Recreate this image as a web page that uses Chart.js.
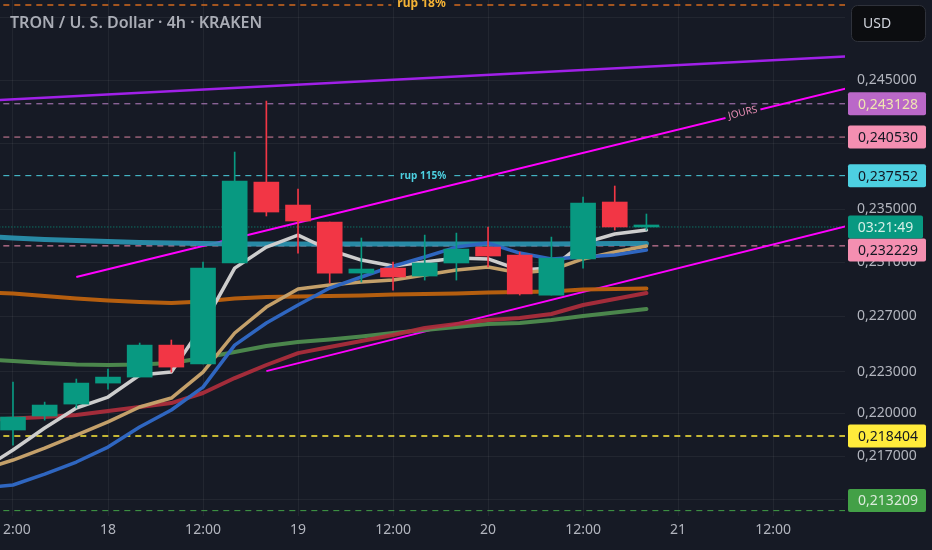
<!DOCTYPE html>
<html>
<head>
<meta charset="utf-8">
<script src="https://cdn.jsdelivr.net/npm/chart.js@4.4.0/dist/chart.umd.min.js"></script>
<style>
  html, body { margin: 0; padding: 0; background: #161a25; }
  #wrap { width: 932px; height: 550px; position: relative; }
</style>
</head>
<body>
<div id="wrap"><canvas id="myChart"></canvas></div>
<script>
// TRX/USD 4h candles, bar 0 = 17th 12:00
var opens  = [0.21883, 0.21982, 0.22067, 0.22217, 0.22260, 0.22491, 0.22354, 0.23095, 0.23706, 0.23531, 0.23402,
              0.23020, 0.23057, 0.22998, 0.23095, 0.23214, 0.23154, 0.22857, 0.23125, 0.23554, 0.23365];
var highs  = [0.22224, 0.22081, 0.22246, 0.22318, 0.22506, 0.22528, 0.23102, 0.23937, 0.24334, 0.23653, 0.23402,
              0.23282, 0.23102, 0.23304, 0.23319, 0.23365, 0.23177, 0.23289, 0.23592, 0.23676, 0.23463];
var lows   = [0.21777, 0.21953, 0.22039, 0.22174, 0.22260, 0.22296, 0.22354, 0.23095, 0.23448, 0.23169, 0.22946,
              0.22954, 0.22894, 0.22968, 0.22968, 0.23065, 0.22857, 0.22857, 0.23057, 0.23342, 0.23342];
var closes = [0.21975, 0.22060, 0.22217, 0.22260, 0.22491, 0.22332, 0.23057, 0.23714, 0.23478, 0.23410, 0.23020,
              0.23050, 0.22991, 0.23095, 0.23199, 0.23147, 0.22865, 0.23132, 0.23546, 0.23365, 0.23372];

// moving averages, first value is the bar before bar 0
var maGray   = [0.21602, 0.21742, 0.21897, 0.22039, 0.22117, 0.22275, 0.22296, 0.22637, 0.23057, 0.23214, 0.23304,
                0.23192, 0.23117, 0.23072, 0.23102, 0.23132, 0.23125, 0.23043, 0.23057, 0.23244, 0.23312, 0.23342];
var maTan    = [0.21602, 0.21672, 0.21756, 0.21847, 0.21940, 0.22046, 0.22110, 0.22296, 0.22579, 0.22769, 0.22902,
                0.22931, 0.22954, 0.22968, 0.23006, 0.23043, 0.23065, 0.23020, 0.23043, 0.23125, 0.23177, 0.23222];
var maBlue   = [0.21477, 0.21498, 0.21574, 0.21658, 0.21763, 0.21904, 0.22025, 0.22188, 0.22491, 0.22652, 0.22784,
                0.22909, 0.22991, 0.23072, 0.23140, 0.23214, 0.23244, 0.23169, 0.23125, 0.23140, 0.23154, 0.23192];
var maTeal   = [0.23297, 0.23282, 0.23270, 0.23263, 0.23255, 0.23249, 0.23244, 0.23240, 0.23237, 0.23237, 0.23237,
                0.23237, 0.23237, 0.23237, 0.23237, 0.23237, 0.23237, 0.23237, 0.23237, 0.23238, 0.23240, 0.23240];
var maOrange = [0.22880, 0.22868, 0.22850, 0.22832, 0.22817, 0.22806, 0.22798, 0.22810, 0.22832, 0.22843, 0.22846,
                0.22850, 0.22854, 0.22861, 0.22865, 0.22868, 0.22876, 0.22880, 0.22884, 0.22899, 0.22902, 0.22906];
var maGreen  = [0.22390, 0.22376, 0.22361, 0.22350, 0.22347, 0.22350, 0.22361, 0.22397, 0.22441, 0.22484, 0.22513,
                0.22531, 0.22553, 0.22579, 0.22601, 0.22623, 0.22644, 0.22652, 0.22674, 0.22703, 0.22729, 0.22754];
var maRed    = [0.21953, 0.21964, 0.21975, 0.21989, 0.22017, 0.22046, 0.22074, 0.22146, 0.22253, 0.22347, 0.22433,
                0.22477, 0.22521, 0.22564, 0.22615, 0.22644, 0.22674, 0.22688, 0.22718, 0.22784, 0.22828, 0.22872];

// trend lines: [bar, price]
var purpleLine = [[-1, 0.24334], [27, 0.24696]];
var joursLine  = [[2, 0.22991], [27, 0.24475]];
var lowerLine  = [[8, 0.22303], [27, 0.23412]];

// horizontal levels
var rupTop   = 0.2510;
var levelVals = [0.243128, 0.240530, 0.237552, 0.232229, 0.218404, 0.213209];
var lastPrice = 0.23365;
var countdown = '03:21:49';

var yTicks = [0.250, 0.245, 0.240, 0.235, 0.231, 0.227, 0.223, 0.220, 0.217, 0.214];
var yTicksHidden = [0.250, 0.240, 0.214];
var xTickPos = [0, 3, 6, 9, 12, 15, 18, 21, 24];
var xTickLabels = ['12:00', '18', '12:00', '19', '12:00', '20', '12:00', '21', '12:00'];

var BG = '#161a25';
var levelStyle = [
  { line: '#b77fc4', box: '#ba68c8', text: '#efe6b0' },
  { line: '#d9839f', box: '#f48fb1', text: '#131722' },
  { line: '#4dd0e1', box: '#4dd0e1', text: '#131722' },
  { line: '#f48fb1', box: '#f48fb1', text: '#131722' },
  { line: '#ffeb3b', box: '#ffeb3b', text: '#131722' },
  { line: '#43a047', box: '#43a047', text: '#dcebdc' }
];

Chart.defaults.font.family = "'Noto Sans', sans-serif";

var up = '#089981', down = '#f23645';
var candleColors = opens.map(function (o, i) { return closes[i] >= o ? up : down; });

function maSet(vals, color, width, order) {
  return {
    type: 'line', order: order,
    data: vals.map(function (v, k) { return { x: k - 1, y: v }; }),
    borderColor: color, borderWidth: width, pointRadius: 0, tension: 0, fill: false,
    borderJoinStyle: 'round', borderCapStyle: 'round'
  };
}
function segSet(pts, color, width, order) {
  return {
    type: 'line', order: order,
    data: pts.map(function (p) { return { x: p[0], y: p[1] }; }),
    borderColor: color, borderWidth: width, pointRadius: 0, fill: false
  };
}
function levelSet(v, color, dash, width) {
  return {
    type: 'line', order: 6,
    data: [{ x: -1, y: v }, { x: 27, y: v }],
    borderColor: color, borderDash: dash, borderWidth: width, pointRadius: 0, fill: false
  };
}

var datasets = [
  { type: 'bar', order: 0, grouped: false, barThickness: 25, minBarLength: 2,
    data: opens.map(function (o, i) { return { x: i, y: [o, closes[i]] }; }),
    backgroundColor: candleColors, borderWidth: 0 },
  { type: 'bar', order: 1, grouped: false, barThickness: 1,
    data: lows.map(function (l, i) { return { x: i, y: [l, highs[i]] }; }),
    backgroundColor: candleColors, borderWidth: 0 },
  maSet(maRed, 'rgba(176,46,60,0.92)', 4, 3),
  maSet(maGreen, 'rgba(78,140,78,0.95)', 4, 3),
  maSet(maOrange, 'rgba(190,98,14,0.95)', 4, 3),
  maSet(maTeal, 'rgba(42,146,176,0.92)', 5, 3),
  maSet(maBlue, '#2f66c0', 3.5, 2),
  maSet(maTan, '#c4a06a', 3.5, 2),
  maSet(maGray, '#cdcdcd', 3.5, 2),
  segSet(purpleLine, '#a020e8', 2.5, 4),
  segSet(joursLine, '#ff00ff', 2, 4),
  segSet(lowerLine, '#ff00ff', 2, 4),
  levelSet(rupTop, '#d2691e', [6, 5], 1.5),
  levelSet(lastPrice, up, [1, 2], 1)
];
levelVals.forEach(function (v, i) {
  datasets.push(levelSet(v, levelStyle[i].line, [6, 5], i === 4 ? 1.5 : 1));
});

function box(ctx, x, y, w, h, r, fill, stroke) {
  ctx.beginPath();
  ctx.moveTo(x + r, y);
  ctx.arcTo(x + w, y, x + w, y + h, r);
  ctx.arcTo(x + w, y + h, x, y + h, r);
  ctx.arcTo(x, y + h, x, y, r);
  ctx.arcTo(x, y, x + w, y, r);
  ctx.closePath();
  ctx.fillStyle = fill;
  ctx.fill();
  if (stroke) { ctx.strokeStyle = stroke; ctx.lineWidth = 1; ctx.stroke(); }
}

function fmt(v) { return v.toFixed(6).replace('.', ','); }

function noPad(s) {
  s.paddingLeft = 0; s.paddingRight = 0; s.paddingTop = 0; s.paddingBottom = 0;
}

var overlay = {
  id: 'overlay',
  beforeDraw: function (chart) {
    var ctx = chart.ctx;
    ctx.save();
    ctx.fillStyle = BG;
    ctx.fillRect(0, 0, chart.width, chart.height);
    ctx.restore();
  },
  afterDatasetsDraw: function (chart) {
    var ctx = chart.ctx, xs = chart.scales.x, ys = chart.scales.y;
    ctx.save();
    ctx.textBaseline = 'middle';

    // rup 18%
    var x1 = xs.getPixelForValue(12.9), y1 = ys.getPixelForValue(rupTop);
    ctx.font = 'bold 12px "Noto Sans"';
    var w1 = ctx.measureText('rup 18%').width;
    ctx.fillStyle = BG;
    ctx.fillRect(x1 - w1 / 2 - 6, y1 - 2, w1 + 12, 4);
    ctx.fillStyle = '#f5b335';
    ctx.textAlign = 'center';
    ctx.fillText('rup 18%', x1, y1 - 1);

    // rup 115%
    var x2 = xs.getPixelForValue(12.95), y2 = ys.getPixelForValue(levelVals[2]);
    ctx.font = 'bold 10px "Noto Sans"';
    var w2 = ctx.measureText('rup 115%').width;
    ctx.fillStyle = BG;
    ctx.fillRect(x2 - w2 / 2 - 6, y2 - 2, w2 + 12, 4);
    ctx.fillStyle = '#4dd0e1';
    ctx.fillText('rup 115%', x2, y2);

    // JOURS on the magenta line
    var ax = xs.getPixelForValue(joursLine[0][0]), ay = ys.getPixelForValue(joursLine[0][1]);
    var bx = xs.getPixelForValue(joursLine[1][0]), by = ys.getPixelForValue(joursLine[1][1]);
    var ang = Math.atan2(by - ay, bx - ax);
    var jx = 743, jy = ay + (by - ay) * (jx - ax) / (bx - ax);
    ctx.translate(jx, jy);
    ctx.rotate(ang);
    ctx.font = '10px "Noto Sans"';
    ctx.fillStyle = BG;
    ctx.fillRect(-18, -4, 36, 8);
    ctx.fillStyle = '#e98fb6';
    ctx.textAlign = 'center';
    ctx.fillText('JOURS', 0, -1);
    ctx.setTransform(1, 0, 0, 1, 0, 0);
    ctx.restore();

    // title
    ctx.save();
    ctx.font = '600 16px "Noto Sans"';
    ctx.fillStyle = '#a9acb5';
    ctx.textBaseline = 'middle';
    ctx.textAlign = 'left';
    ctx.fillText('TRON / U. S. Dollar \u00b7 4h \u00b7 KRAKEN', 10, 23);
    ctx.restore();
  },
  afterDraw: function (chart) {
    var ctx = chart.ctx, ys = chart.scales.y, area = chart.chartArea;
    var bx = area.right + 3, bw = 78, bh = 23;
    ctx.save();
    ctx.font = '14px "Noto Sans"';
    ctx.textBaseline = 'middle';
    ctx.textAlign = 'center';

    var cy = ys.getPixelForValue(lastPrice);
    var cTop = cy - bh / 2, cBot = cy + bh / 2;

    levelVals.forEach(function (v, i) {
      var top = ys.getPixelForValue(v) - bh / 2;
      if (top < cBot && top + bh > cTop) top = cBot;
      if (top + bh > area.bottom - 4) top = area.bottom - 4 - bh;
      box(ctx, bx, top, bw, bh, 2, levelStyle[i].box);
      ctx.fillStyle = levelStyle[i].text;
      ctx.fillText(fmt(v), bx + bw / 2 + 1, top + bh / 2 + 1);
    });

    box(ctx, bx, cTop, 75, bh, 2, up);
    ctx.fillStyle = '#d3efe6';
    ctx.fillText(countdown, bx + 37.5, cy + 1);

    // currency button
    box(ctx, area.right + 6.5, 5.5, 74, 36, 6, '#0c0d10', '#2f323b');
    ctx.fillStyle = '#d1d4dc';
    ctx.textAlign = 'left';
    ctx.fillText('USD', area.right + 18, 24);
    ctx.restore();
  }
};

var ctx = document.getElementById('myChart');
var myChart = new Chart(ctx, {
  type: 'line',
  data: { datasets: datasets },
  options: {
    responsive: true,
    maintainAspectRatio: false,
    animation: false,
    layout: { padding: 0, autoPadding: false },
    plugins: { legend: { display: false }, tooltip: { enabled: false } },
    scales: {
      x: {
        type: 'linear', min: -0.41, max: 26.27, offset: false,
        afterBuildTicks: function (s) { s.ticks = xTickPos.map(function (v) { return { value: v }; }); },
        afterFit: function (s) { s.height = 34; noPad(s); },
        grid: { color: 'rgba(255,255,255,0.055)', drawTicks: false, offset: false },
        border: { display: false },
        ticks: {
          autoSkip: false, maxRotation: 0, padding: 6, color: '#b2b5be', font: { size: 14 },
          callback: function (v) { var k = xTickPos.indexOf(v); return k < 0 ? '' : xTickLabels[k]; }
        }
      },
      y: {
        type: 'logarithmic', position: 'right', min: 0.21284, max: 0.25141, bounds: 'data',
        afterBuildTicks: function (s) { s.ticks = yTicks.map(function (v) { return { value: v }; }); },
        afterFit: function (s) { s.width = 87; noPad(s); },
        grid: { color: 'rgba(255,255,255,0.055)', drawTicks: false },
        border: { display: false },
        ticks: {
          autoSkip: false, padding: 12, color: '#b2b5be', font: { size: 14 }, crossAlign: 'near',
          callback: function (v) { return yTicksHidden.indexOf(v) >= 0 ? '' : fmt(v); }
        }
      }
    }
  },
  plugins: [overlay]
});
</script>
</body>
</html>
